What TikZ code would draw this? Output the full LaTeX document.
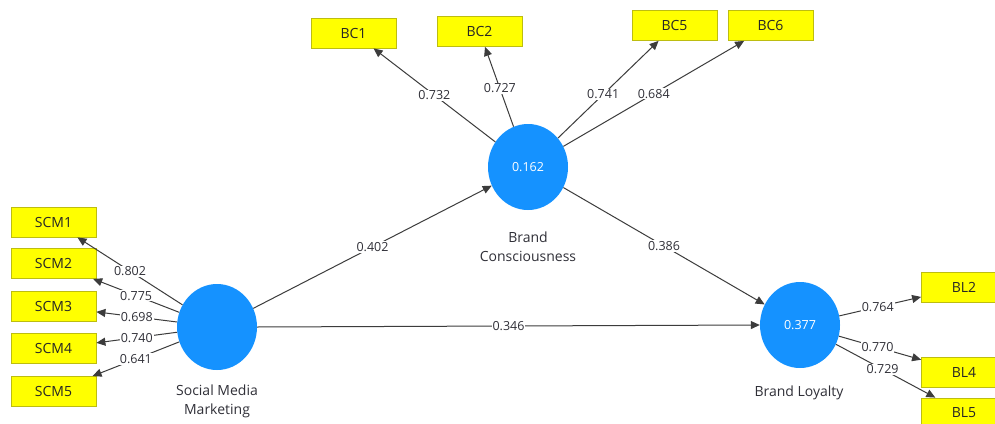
\documentclass[tikz,border=0pt]{standalone}
\usepackage{fontspec}
\setmainfont{Open Sans}
\usetikzlibrary{arrows.meta,shapes.geometric}
\definecolor{boxyellow}{HTML}{FFFF00}
\definecolor{boxedge}{HTML}{BDBD10}
\definecolor{lvblue}{HTML}{1592FF}
\definecolor{linegray}{HTML}{3C3C3C}
\definecolor{numtext}{HTML}{303038}
\begin{document}
\begin{tikzpicture}[x=1pt,y=-1pt,
  indicator/.style={draw=boxedge, fill=boxyellow, minimum width=85pt, minimum height=30pt,
    inner sep=0pt, line width=0.8pt, text=black!85, font=\fontsize{14}{16}\selectfont},
  latent/.style={ellipse, fill=lvblue, minimum width=80pt, minimum height=86pt, inner sep=0pt,
    text=white, font=\fontsize{12.5}{14}\selectfont},
  pathline/.style={draw=linegray, line width=1pt, -{Triangle[length=9pt,width=8pt]}},
  coef/.style={fill=white, inner sep=1pt, text=numtext, font=\fontsize{12.5}{14}\selectfont},
  caption/.style={align=center, text=numtext, font=\fontsize{14}{19}\selectfont}]
\useasboundingbox (0,0) rectangle (995,423);
\fill[white] (0,0) rectangle (995,423);
\clip (0,0) rectangle (995,423);

% latent variables
\node[latent] (smm) at (217,327) {};
\node[latent] (bc) at (528,167) {0.162};
\node[latent] (bl) at (800,325) {0.377};

\node[caption] (smmcap) at (217,401) {Social Media\\Marketing};
\node[caption] (bccap) at (528,247) {Brand\\Consciousness};
\node[caption] (blcap) at (799,393) {Brand Loyalty};

% indicators
\node[indicator] (scm1) at (53.5,222) {SCM1};
\node[indicator] (scm2) at (53.5,263.5) {SCM2};
\node[indicator] (scm3) at (53.5,306.5) {SCM3};
\node[indicator] (scm4) at (53.5,348.5) {SCM4};
\node[indicator] (scm5) at (53.5,391.5) {SCM5};

\node[indicator] (bc1) at (353.5,33) {BC1};
\node[indicator] (bc2) at (479.5,31.5) {BC2};
\node[indicator] (bc5) at (674.5,25.5) {BC5};
\node[indicator] (bc6) at (770.5,25.5) {BC6};

\node[indicator] (bl2) at (964,287) {BL2};
\node[indicator] (bl4) at (964,372) {BL4};
\node[indicator] (bl5) at (964,413) {BL5};

% outer loadings
\draw[pathline] (smm) -- node[coef] {0.802} (scm1);
\draw[pathline] (smm) -- node[coef] {0.775} (scm2);
\draw[pathline] (smm) -- node[coef] {0.698} (scm3);
\draw[pathline] (smm) -- node[coef] {0.740} (scm4);
\draw[pathline] (smm) -- node[coef] {0.641} (scm5);

\draw[pathline] (bc) -- node[coef] {0.732} (bc1);
\draw[pathline] (bc) -- node[coef, pos=0.48] {0.727} (bc2);
\draw[pathline] (bc) -- node[coef, pos=0.45] {0.741} (bc5);
\draw[pathline] (bc) -- node[coef] {0.684} (bc6);

\draw[pathline] (bl) -- node[coef, pos=0.47] {0.764} (bl2);
\draw[pathline] (bl) -- node[coef, pos=0.47] {0.770} (bl4);
\draw[pathline] (bl) -- node[coef, pos=0.47] {0.729} (bl5);

% structural paths
\draw[pathline] (smm) -- node[coef] {0.402} (bc);
\draw[pathline] (bc) -- node[coef] {0.386} (bl);
\draw[pathline] (smm.east) -- node[coef] {0.346} (bl.west);
\end{tikzpicture}
\end{document}
